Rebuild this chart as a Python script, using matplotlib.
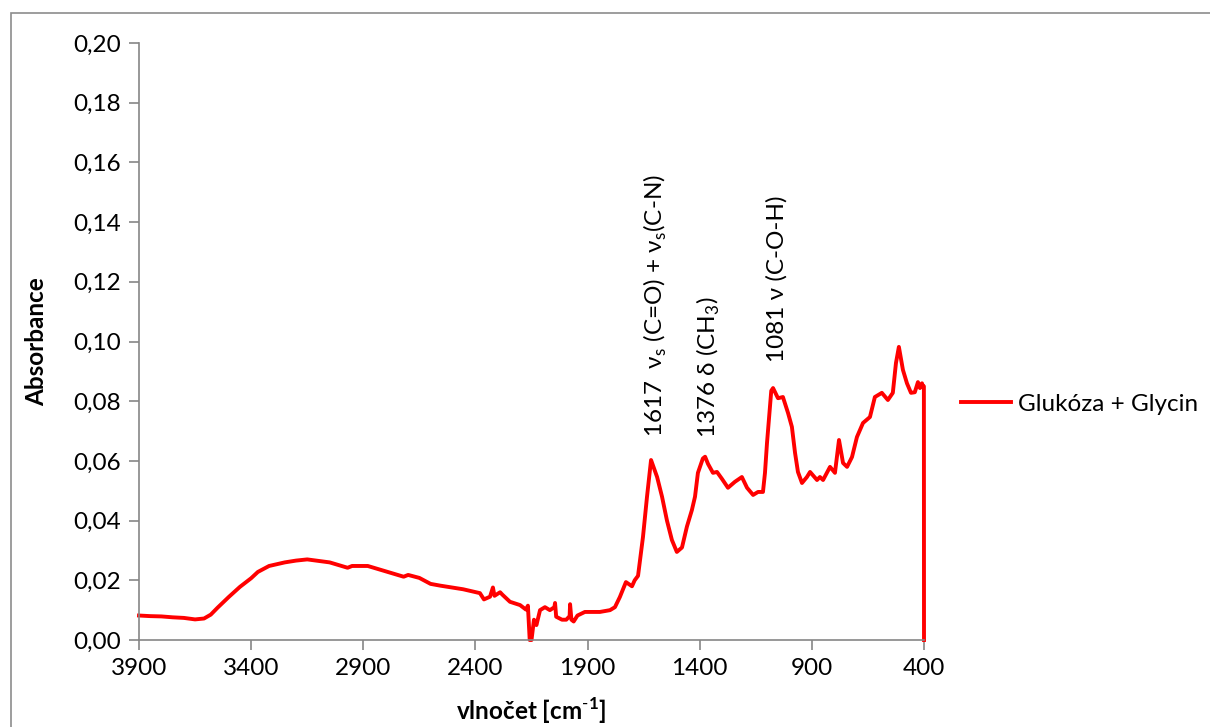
import matplotlib
matplotlib.use("Agg")
import matplotlib.pyplot as plt
from matplotlib.patches import Rectangle
from matplotlib.ticker import FuncFormatter

plt.rcParams['font.family'] = ['Lato', 'DejaVu Sans']
plt.rcParams['mathtext.fontset'] = 'custom'
plt.rcParams['mathtext.rm'] = 'Lato'

# Spectrum: wavenumber (cm-1) and absorbance
wavenumber = [3900, 3850, 3800, 3750, 3700, 3650, 3610, 3580, 3550, 3500, 3450, 3400,
              3370, 3320, 3250, 3200, 3150, 3050,
              2970, 2950, 2880, 2800, 2720, 2700, 2650, 2600, 2556, 2455, 2380, 2362,
              2335, 2322, 2315, 2290, 2280, 2246, 2201, 2175, 2166, 2158, 2150, 2139,
              2128, 2112, 2090, 2068, 2048, 2045, 2040, 2014, 1995, 1980, 1978, 1972,
              1962, 1945, 1912, 1845, 1800, 1778, 1756, 1729, 1702, 1690, 1675, 1653,
              1635, 1617, 1590, 1568, 1546, 1524, 1502, 1479, 1457, 1435, 1421, 1408,
              1386, 1376, 1363, 1341, 1323, 1301, 1274, 1243, 1212, 1189, 1162, 1140,
              1118, 1109, 1100, 1081, 1073, 1051, 1029, 1006, 989, 975, 962, 944, 922,
              908, 877, 864, 850, 819, 797, 779, 761, 743, 721, 699, 672, 641, 619, 588,
              561, 539, 525, 512, 494, 476, 458, 441, 427, 418, 409, 404, 400.5, 400]
absorbance = [0.0082, 0.0080, 0.0079, 0.0076, 0.0074, 0.0069, 0.0072, 0.0085, 0.0108,
              0.0144, 0.0178, 0.0207, 0.0228, 0.0248, 0.0260, 0.0266, 0.0270, 0.0260,
              0.0242, 0.0248, 0.0248, 0.0230, 0.0212, 0.0218,
              0.0208, 0.0188, 0.0182, 0.0170, 0.0157, 0.0136, 0.0145, 0.0176, 0.0148,
              0.0160, 0.0152, 0.0128, 0.0117, 0.0102, 0.0115, 0.0000, 0.0000, 0.0068,
              0.0050, 0.0100, 0.0110, 0.0100, 0.0110, 0.0124, 0.0078, 0.0068, 0.0068,
              0.0080, 0.0120, 0.0068, 0.0062, 0.0082, 0.0094, 0.0094, 0.0100, 0.0110,
              0.0144, 0.0194, 0.0180, 0.0200, 0.0215, 0.0345, 0.0480, 0.0603, 0.0546,
              0.0480, 0.0400, 0.0335, 0.0295, 0.0310, 0.0380, 0.0435, 0.0480, 0.0560,
              0.0608, 0.0614, 0.0590, 0.0560, 0.0563, 0.0540, 0.0510, 0.0530, 0.0546,
              0.0510, 0.0486, 0.0496, 0.0496, 0.0560, 0.0660, 0.0835, 0.0844, 0.0810,
              0.0814, 0.0760, 0.0714, 0.0627, 0.0563, 0.0526, 0.0546, 0.0563, 0.0536,
              0.0546, 0.0536, 0.0580, 0.0560, 0.0670, 0.0593, 0.0580, 0.0613, 0.0680,
              0.0727, 0.0747, 0.0814, 0.0828, 0.0804, 0.0828, 0.0928, 0.0982, 0.0905,
              0.0860, 0.0828, 0.0830, 0.0864, 0.0844, 0.0860, 0.0848, 0.0850, 0.0000]

series_label = "Glukóza + Glycin"
x_ticks = [3900, 3400, 2900, 2400, 1900, 1400, 900, 400]
y_ticks = [0.00, 0.02, 0.04, 0.06, 0.08, 0.10, 0.12, 0.14, 0.16, 0.18, 0.20]

annotations = [
    (1598, 0.0680, "1617  ν$_\\mathregular{s}$ (C=O) + ν$_\\mathregular{s}$(C-N)"),
    (1362, 0.0677, "1376 δ (CH$_\\mathregular{3}$)"),
    (1058, 0.0931, "1081 ν (C-O-H)"),
]

FS = 17.5
W, H = 1210, 727
fig = plt.figure(figsize=(W / 100, H / 100), dpi=100)
ax = fig.add_axes([139 / W, 1 - 640 / H, (924 - 139) / W, (640 - 43) / H])

# outer chart frame
fig.add_artist(Rectangle((10.5 / W, -0.2), 1.5, (H - 13.5) / H + 0.2,
                         transform=fig.transFigure, fill=False,
                         edgecolor='#8c8c8c', linewidth=1.2))

ax.plot(wavenumber, absorbance, color='#ff0000', linewidth=2.8, label=series_label,
        solid_joinstyle='round', clip_on=False)

ax.set_xlim(3900, 400)
ax.set_ylim(0, 0.20)
ax.set_xticks(x_ticks)
ax.set_yticks(y_ticks)
ax.yaxis.set_major_formatter(FuncFormatter(lambda v, p: f"{v:.2f}".replace('.', ',')))
ax.xaxis.set_major_formatter(FuncFormatter(lambda v, p: f"{int(v)}"))

for s in ['top', 'right']:
    ax.spines[s].set_visible(False)
for s in ['left', 'bottom']:
    ax.spines[s].set_color('#868686')
    ax.spines[s].set_linewidth(1.2)
ax.tick_params(axis='both', direction='out', length=7, width=1.2, color='#868686',
               labelsize=FS, labelcolor='black', pad=6)

ax.set_xlabel("vlnočet [cm$^{\\mathregular{\\text{-}1}}$]", fontsize=FS, fontweight='bold',
              labelpad=12)
ax.set_ylabel("Absorbance", fontsize=FS, fontweight='bold', labelpad=18)

for xv, yv, txt in annotations:
    ax.text(xv, yv, txt, rotation=90, ha='center', va='bottom', fontsize=FS)

leg = ax.legend(loc='center left', bbox_to_anchor=(1.047, 0.395), frameon=False,
                fontsize=FS, handlelength=2.05, handletextpad=0.3, borderaxespad=0,
                borderpad=0)

fig.savefig("out.png", dpi=100)
